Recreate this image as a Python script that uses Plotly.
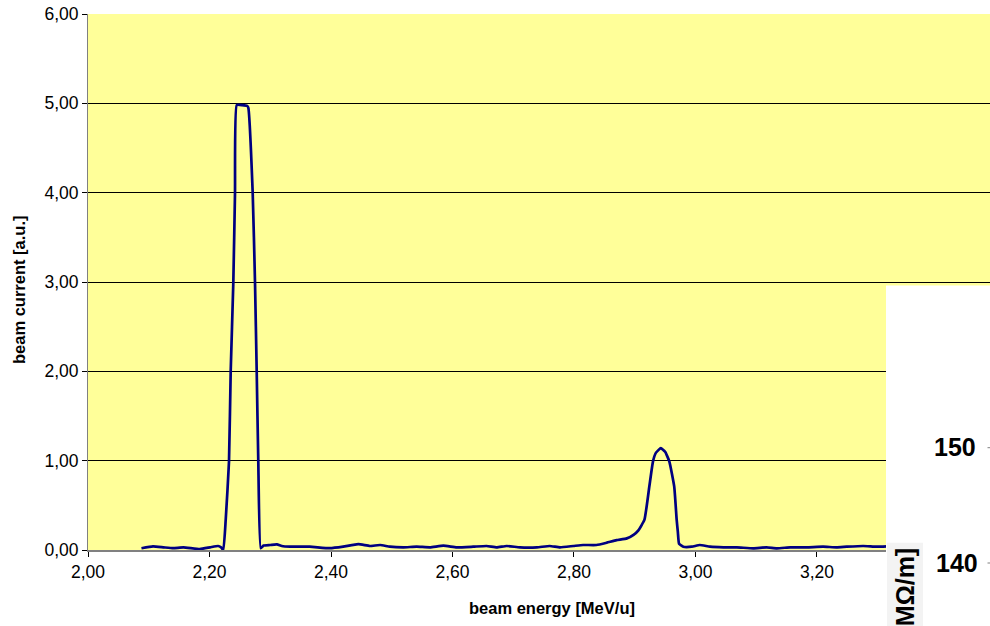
import plotly.graph_objects as go

# beam energy [MeV/u]
energy = [2.088, 2.107, 2.124, 2.140, 2.157, 2.184, 2.201, 2.214, 2.219,
          2.2227, 2.2267, 2.2321, 2.2349, 2.2392, 2.2420, 2.2448, 2.2535, 2.2622,
          2.2639, 2.2711, 2.2749, 2.2777, 2.2803, 2.2843, 2.289, 2.300, 2.311,
          2.319, 2.333, 2.365, 2.398, 2.420, 2.445, 2.464, 2.481, 2.497, 2.519,
          2.541, 2.563, 2.585, 2.607, 2.634, 2.656, 2.673, 2.689, 2.711, 2.739,
          2.760, 2.777, 2.799, 2.815, 2.837, 2.854, 2.870, 2.887, 2.898, 2.906,
          2.916, 2.924, 2.930, 2.935, 2.943, 2.950, 2.957, 2.965, 2.969, 2.971,
          2.973, 2.980, 2.994, 3.007, 3.024, 3.046, 3.068, 3.095, 3.117, 3.134,
          3.156, 3.183, 3.210, 3.232, 3.249, 3.276, 3.298, 3.315, 3.350, 3.400]
# beam current [a.u.]
current = [0.02, 0.04, 0.03, 0.02, 0.03, 0.01, 0.03, 0.045, 0.03,
           0.00, 0.34, 0.99, 2.00, 2.99, 4.00, 4.98, 4.98, 4.97,
           4.95, 4.00, 3.00, 2.00, 1.00, 0.02, 0.05, 0.056, 0.063,
           0.045, 0.037, 0.037, 0.02, 0.037, 0.065, 0.045, 0.056, 0.037, 0.03,
           0.037, 0.03, 0.048, 0.03, 0.037, 0.045, 0.03, 0.045, 0.03, 0.03,
           0.045, 0.03, 0.045, 0.056, 0.056, 0.082, 0.11, 0.13, 0.17, 0.22,
           0.34, 0.71, 0.99, 1.09, 1.14, 1.10, 0.99, 0.71, 0.34, 0.20,
           0.07, 0.037, 0.037, 0.056, 0.037, 0.03, 0.03, 0.019, 0.03, 0.019,
           0.03, 0.03, 0.037, 0.03, 0.037, 0.045, 0.037, 0.04, 0.04, 0.03]

x_ticks = [2.0, 2.2, 2.4, 2.6, 2.8, 3.0, 3.2, 3.4]
y_ticks = [0, 1, 2, 3, 4, 5, 6]

FONT = "Liberation Sans, Arial, sans-serif"

fig = go.Figure()
fig.add_trace(go.Scatter(
    x=energy, y=current, mode="lines",
    line=dict(color="#000080", width=2.7, shape="spline", smoothing=0.4),
    hoverinfo="skip", showlegend=False,
))

fig.update_layout(
    width=990, height=626,
    margin=dict(l=88, r=0, t=14, b=76, pad=0),
    separators=",.",
    plot_bgcolor="#FFFF99",
    paper_bgcolor="white",
    font=dict(family=FONT, color="black"),
    xaxis=dict(
        range=[2.0, 3.4848], tickvals=x_ticks, tickformat=".2f",
        ticks="outside", ticklen=5, tickcolor="black", tickwidth=1,
        showgrid=False, zeroline=False,
        showline=True, linecolor="#808080", linewidth=2,
        tickfont=dict(family=FONT, size=17.5, color="black"),
    ),
    yaxis=dict(
        range=[0, 6], tickvals=y_ticks, tickformat=".2f",
        ticksuffix="\u00a0",
        ticks="outside", ticklen=5, tickcolor="black", tickwidth=1,
        showgrid=True, gridcolor="black", gridwidth=1, zeroline=False,
        showline=True, linecolor="#808080", linewidth=1,
        tickfont=dict(family=FONT, size=17.5, color="black"),
    ),
    annotations=[
        dict(text="<b>beam energy [MeV/u]</b>", xref="paper", yref="paper",
             x=(552 - 88) / 902, y=(550 - 608) / 536, showarrow=False,
             font=dict(family=FONT, size=16.5, color="black"),
             xanchor="center", yanchor="middle"),
        dict(text="<b>beam current [a.u.]</b>", xref="paper", yref="paper",
             x=(19 - 88) / 902, y=(550 - 290) / 536, showarrow=False,
             textangle=-90,
             font=dict(family=FONT, size=16.5, color="black"),
             xanchor="center", yanchor="middle"),
        dict(text="<b>150</b>", xref="paper", yref="paper",
             x=(955 - 88) / 902, y=(550 - 447) / 536, showarrow=False,
             font=dict(family=FONT, size=25, color="black"),
             xanchor="center", yanchor="middle"),
        dict(text="<b>140</b>", xref="paper", yref="paper",
             x=(957 - 88) / 902, y=(550 - 563) / 536, showarrow=False,
             font=dict(family=FONT, size=25, color="black"),
             xanchor="center", yanchor="middle"),
        dict(text="<b>[MΩ/m]</b>", xref="paper", yref="paper",
             x=(904 - 88) / 902, y=(550 - 546) / 536, showarrow=False,
             textangle=-90,
             font=dict(family=FONT, size=25, color="black"),
             xanchor="center", yanchor="top"),
    ],
    shapes=[
        # white overlapping panel (cropped neighbouring chart)
        dict(type="rect", xref="paper", yref="paper", layer="above",
             x0=(886 - 88) / 902, x1=1.02, y0=(550 - 640) / 536, y1=(550 - 285.5) / 536,
             fillcolor="white", line=dict(width=0)),
        dict(type="rect", xref="paper", yref="paper", layer="above",
             x0=(887 - 88) / 902, x1=(923 - 88) / 902, y0=(550 - 640) / 536, y1=(550 - 542.7) / 536,
             fillcolor="#F3F3F3", line=dict(width=0)),
        dict(type="line", xref="paper", yref="paper", layer="above",
             x0=(987.5 - 88) / 902, x1=(990 - 88) / 902, y0=(550 - 447.7) / 536, y1=(550 - 447.7) / 536,
             line=dict(color="#808080", width=1)),
        dict(type="line", xref="paper", yref="paper", layer="above",
             x0=(987.5 - 88) / 902, x1=(990 - 88) / 902, y0=(550 - 563) / 536, y1=(550 - 563) / 536,
             line=dict(color="#808080", width=1)),
    ],
)

fig.write_html("out.html")
